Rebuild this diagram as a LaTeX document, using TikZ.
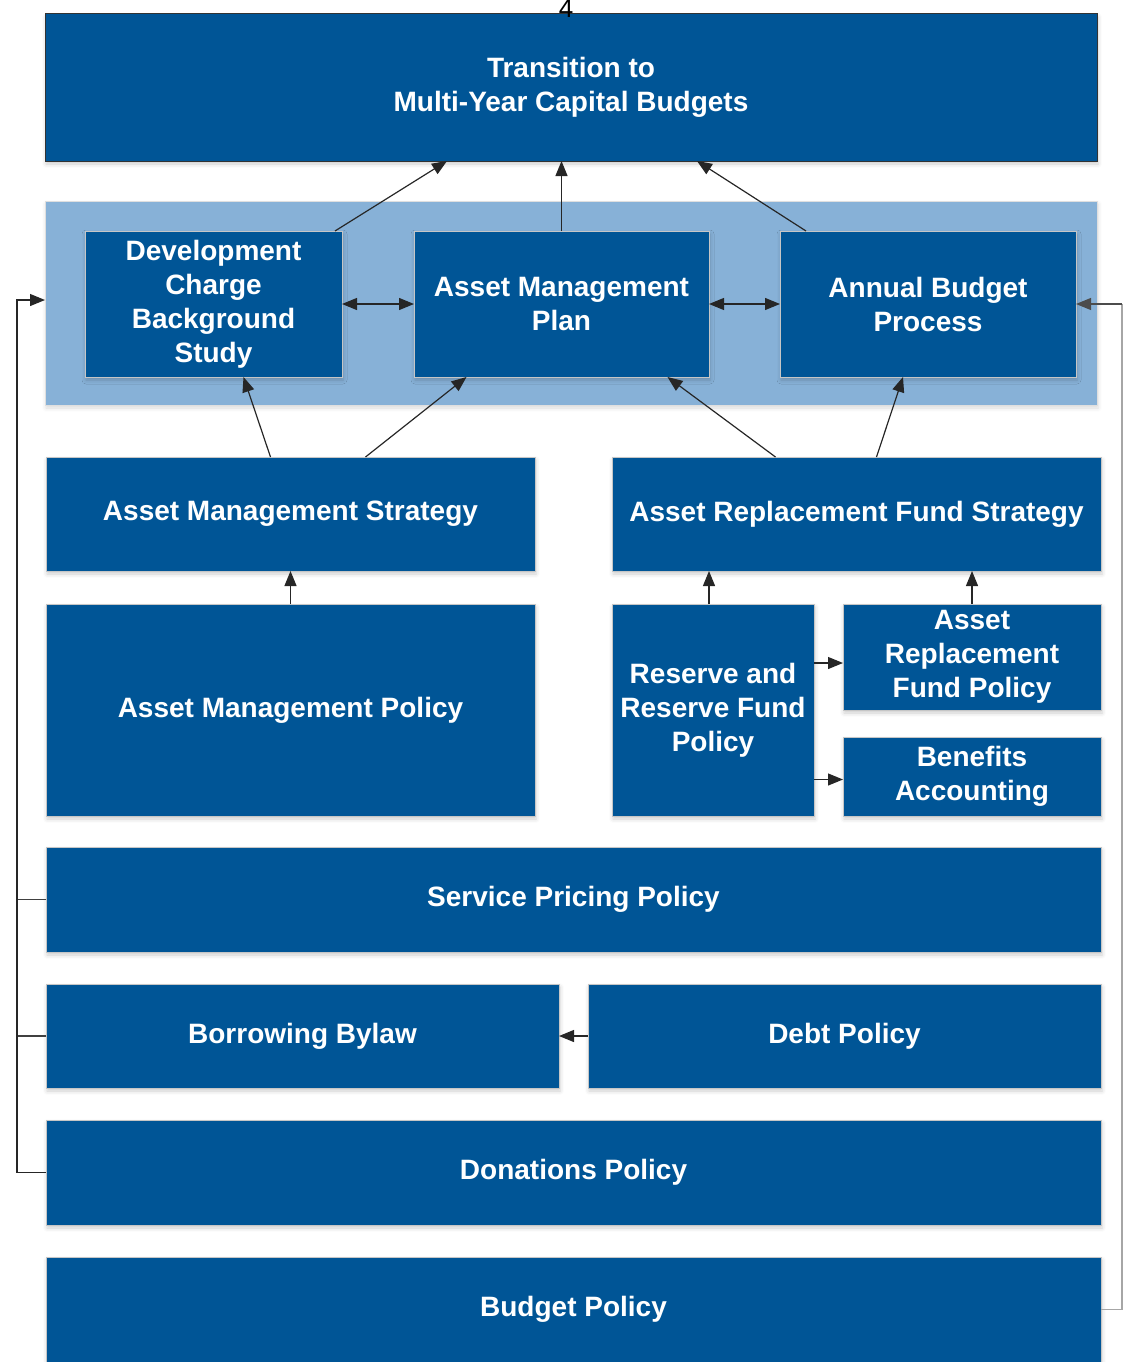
\documentclass[tikz,border=0pt]{standalone}
\usepackage{fontspec}
\setmainfont{Liberation Sans}
\usepackage{tikz}
\usetikzlibrary{arrows.meta,positioning,calc,shadows.blur}
\definecolor{planblue}{HTML}{005596}
\definecolor{panelblue}{HTML}{87B1D7}
\tikzset{
  box/.style={rectangle, draw=gray!45, line width=0.6pt, fill=planblue, text=white, align=center,
    inner sep=2pt, outer sep=0pt, anchor=north west,
    font=\bfseries\fontsize{28}{34}\selectfont,
    blur shadow={shadow xshift=1pt, shadow yshift=-3pt, shadow blur radius=4pt, shadow opacity=20}},
  goalbox/.style={box, draw=black!80, line width=1pt},
  panel/.style={rectangle, fill=panelblue, draw=gray!25, anchor=north west, outer sep=0pt,
    blur shadow={shadow xshift=1pt, shadow yshift=-3pt, shadow blur radius=4pt, shadow opacity=15}},
  link/.style={-{Triangle[length=15pt, width=12pt]}, line width=1.2pt, draw=black!85},
  dlink/.style={link, {Triangle[length=15pt, width=12pt]}-{Triangle[length=15pt, width=12pt]}},
  bus/.style={line width=1.2pt, draw=black!75},
  pgnum/.style={anchor=base, font=\fontsize{26}{30}\selectfont, inner sep=0pt}
}

\begin{document}
\begin{tikzpicture}[x=1pt, y=-1pt]
  \useasboundingbox (0,0) rectangle (1124,1362);

  \node[goalbox, minimum width=1052pt, minimum height=147pt] (goal) at (45,14) {Transition to\\Multi-Year Capital Budgets};
  \node[pgnum] (pg) at (566,18) {4};

  % planning documents
  \node[panel, minimum width=1052pt, minimum height=204pt] (core) at (45,201) {};
  \node[box, minimum width=257pt, minimum height=146pt] (dcbs) at (85,231) {Development\\Charge\\Background\\Study};
  \node[box, minimum width=295pt, minimum height=146pt, right=72pt of dcbs] (amp) {Asset Management\\Plan};
  \node[box, minimum width=296pt, minimum height=146pt, right=71pt of amp] (abp) {Annual Budget\\Process};

  % strategies and policies
  \node[box, minimum width=489pt, minimum height=114pt] (ams) at (46,457) {Asset Management Strategy};
  \node[box, minimum width=489pt, minimum height=114pt, right=77pt of ams] (arfs) {Asset Replacement Fund Strategy};
  \node[box, minimum width=489pt, minimum height=212pt, below=33pt of ams] (ampol) {Asset Management Policy};
  \node[box, minimum width=202pt, minimum height=212pt] (rrf) at (612,604) {Reserve and\\Reserve Fund\\Policy};
  \node[box, minimum width=258pt, minimum height=106pt, right=29pt of rrf.north east, anchor=north west] (arfp) {Asset\\Replacement\\Fund Policy};
  \node[box, minimum width=258pt, minimum height=79pt, below=27pt of arfp] (ben) {Benefits\\Accounting};

  \node[box, minimum width=1055pt, minimum height=105pt] (spp) at (46,847) {Service Pricing Policy};
  \node[box, minimum width=513pt, minimum height=104pt, below=32pt of spp.south west, anchor=north west] (bb) {Borrowing Bylaw};
  \node[box, minimum width=513pt, minimum height=104pt, right=29pt of bb] (debt) {Debt Policy};
  \node[box, minimum width=1055pt, minimum height=105pt, below=32pt of bb.south west, anchor=north west] (don) {Donations Policy};
  \node[box, minimum width=1055pt, minimum height=105pt, below=32pt of don] (bud) {Budget Policy};

  \draw[link] ($(dcbs.north east)+(-7,0)$) -- ($(goal.south)+(-124,0)$);
  \draw[link] (amp.north) -- (amp.north |- goal.south);
  \draw[link] ($(abp.north west)+(26,0)$) -- ($(goal.south)+(126,0)$);
  \draw[dlink] (dcbs) -- (amp);
  \draw[dlink] (amp) -- (abp);

  \draw[link] ($(ams.north)+(-20,0)$) -- ($(dcbs.south)+(30,0)$);
  \draw[link] ($(ams.north)+(75,0)$) -- ($(amp.south)+(-95,0)$);
  \draw[link] ($(arfs.north)+(-81,0)$) -- ($(amp.south)+(106,0)$);
  \draw[link] ($(arfs.north)+(20,0)$) -- ($(abp.south)+(-25,0)$);

  \draw[link] (ampol) -- (ams);
  \draw[link] ($(rrf.north)+(-4,0)$) -- ($(rrf.north |- arfs.south)+(-4,0)$);
  \draw[link] (arfp.north) -- (arfp.north |- arfs.south);
  \draw[link] ($(arfp.west -| rrf.east)+(0,6)$) -- ($(arfp.west)+(0,6)$);
  \draw[link] ($(ben.west -| rrf.east)+(0,3)$) -- ($(ben.west)+(0,3)$);
  \draw[link] (debt) -- (bb);

  % feedback into the plans
  \coordinate (lbus) at (17,0);
  \coordinate (rbus) at (1122,0);
  \draw[bus] (spp.west) -- (spp.west -| lbus);
  \draw[bus] (bb.west) -- (bb.west -| lbus);
  \draw[link] (don.west) -- (don.west -| lbus) |- ($(core.west)+(0,-3)$);
  \draw[bus, draw=gray!70] (bud.east) -- (bud.east -| rbus) -- (abp.east -| rbus);
  \draw[link, draw=black!70] (abp.east -| rbus) -- (abp.east);
\end{tikzpicture}
\end{document}
